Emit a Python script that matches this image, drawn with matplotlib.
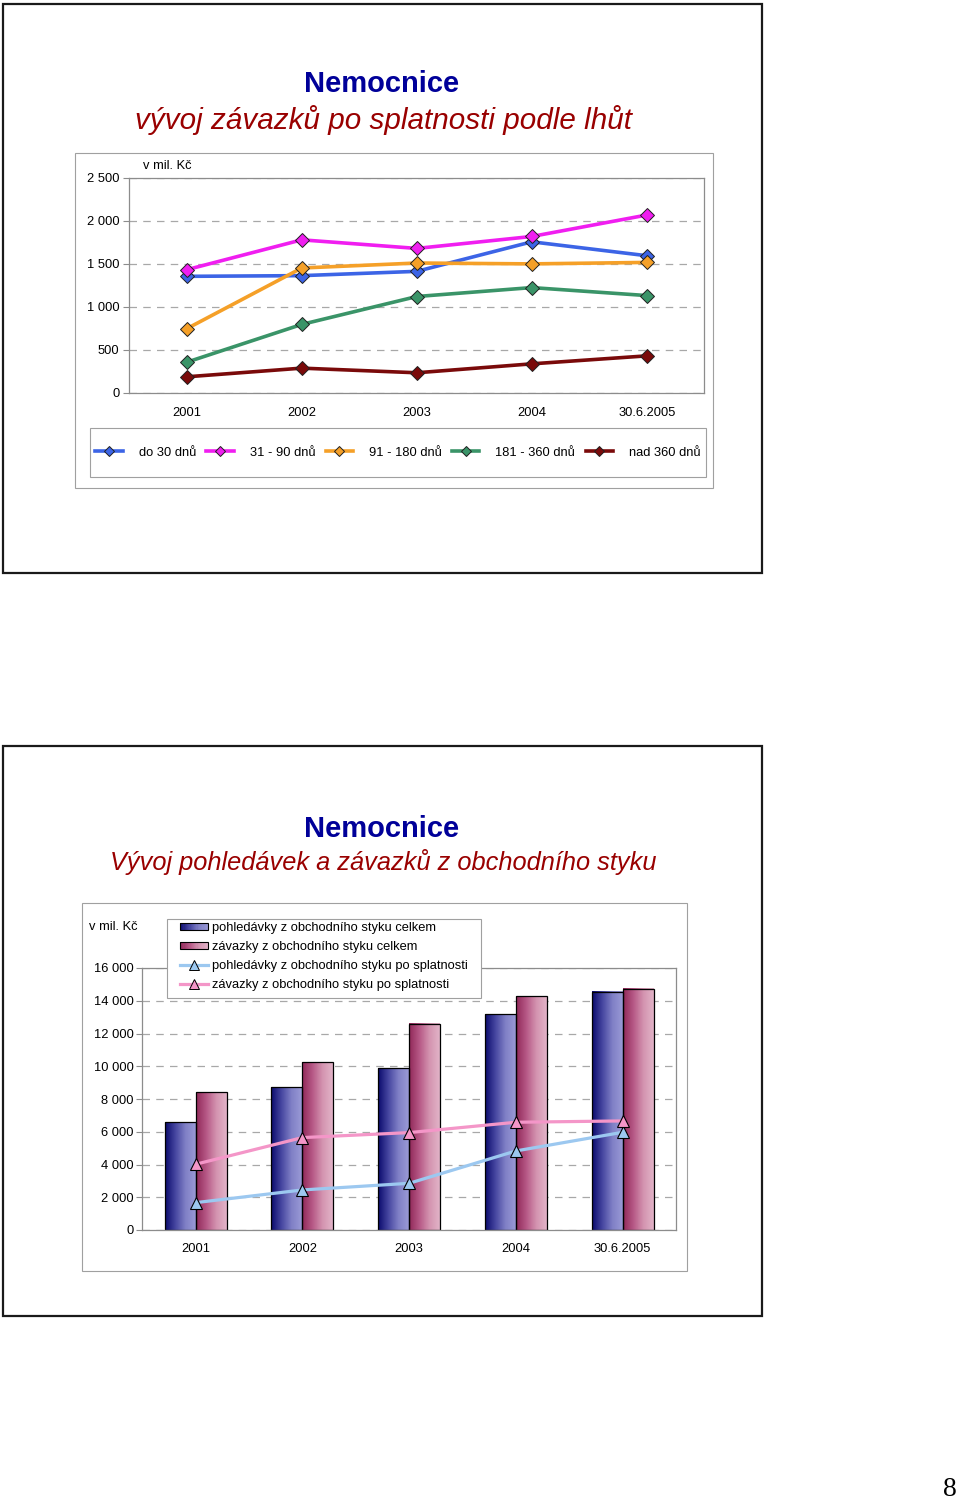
import numpy as np
import matplotlib
matplotlib.use('Agg')
import matplotlib.pyplot as plt
from matplotlib.patches import Rectangle
from matplotlib.colors import LinearSegmentedColormap
from matplotlib.legend_handler import HandlerBase
from matplotlib.lines import Line2D
from matplotlib.ticker import FuncFormatter

plt.rcParams['font.family'] = ['Liberation Sans', 'DejaVu Sans']

W, H = 960, 1501

years = ['2001', '2002', '2003', '2004', '30.6.2005']

# horni graf - zavazky po splatnosti podle lhut (v mil. Kc)
lhuty = ['do 30 dnů', '31 - 90 dnů', '91 - 180 dnů', '181 - 360 dnů', 'nad 360 dnů']
do30 = [1355, 1363, 1413, 1757, 1595]
d31_90 = [1432, 1780, 1680, 1819, 2069]
d91_180 = [745, 1452, 1510, 1500, 1517]
d181_360 = [355, 795, 1120, 1224, 1131]
nad360 = [185, 286, 232, 336, 429]
barvy = ['#3c64e6', '#f01ef0', '#f5a028', '#3a9468', '#7a0a0a']

# dolni graf - pohledavky a zavazky z obchodniho styku
nazvy = ['pohledávky z obchodního styku celkem',
         'závazky z obchodního styku celkem',
         'pohledávky z obchodního styku po splatnosti',
         'závazky z obchodního styku po splatnosti']
pohl_celkem = [6580, 8717, 9878, 13170, 14545]
zav_celkem = [8413, 10246, 12589, 14263, 14727]
pohl_po_spl = [1670, 2445, 2852, 4828, 5968]
zav_po_spl = [4013, 5643, 5948, 6580, 6661]

fig = plt.figure(figsize=(W / 100, H / 100), dpi=100)


def fx(px):
    return px / W


def fy(py):
    return 1 - py / H


def rect_px(x0, y0, x1, y1, **kw):
    r = Rectangle((fx(x0), fy(y1)), (x1 - x0) / W, (y1 - y0) / H,
                  transform=fig.transFigure, **kw)
    fig.add_artist(r)
    return r


def axes_px(x0, y0, x1, y1):
    return fig.add_axes([fx(x0), fy(y1), (x1 - x0) / W, (y1 - y0) / H])


fmt = FuncFormatter(lambda v, p: f'{int(v):,}'.replace(',', ' '))


def style_axes(ax, ymax, step, pad_y, pad_x):
    ax.set_xlim(-0.5, 4.5)
    ax.set_ylim(0, ymax)
    ax.set_yticks(np.arange(0, ymax + 1, step))
    ax.yaxis.set_major_formatter(fmt)
    ax.set_xticks(range(len(years)), years)
    for s in ax.spines.values():
        s.set_color('#8c8c8c')
        s.set_linewidth(0.9)
    ax.yaxis.grid(True, linestyle=(0, (6, 5)), color='#a8a8a8', linewidth=0.9)
    ax.set_axisbelow(True)
    ax.tick_params(axis='y', direction='out', length=4, color='#8c8c8c',
                   labelsize=9.3, pad=pad_y)
    ax.tick_params(axis='x', length=0, labelsize=9.3, pad=pad_x)


# ---- ramecky slidu
rect_px(2.5, 4, 762, 573, fill=False, edgecolor='#1a1a1a', lw=1.6)
rect_px(2.5, 746, 762, 1316, fill=False, edgecolor='#1a1a1a', lw=1.6)
rect_px(75, 153, 713, 488, fill=False, edgecolor='#a0a0a0', lw=0.8)
rect_px(82, 903, 687, 1271, fill=False, edgecolor='#a0a0a0', lw=0.8)

# ---- nadpisy
fig.text(fx(382), fy(84), 'Nemocnice', ha='center', va='center',
         fontsize=21, fontweight='bold', color='#000099')
fig.text(fx(383.5), fy(120), 'vývoj závazků po splatnosti podle lhůt',
         ha='center', va='center', fontsize=21.3, style='italic', color='#990000')
fig.text(fx(382), fy(829), 'Nemocnice', ha='center', va='center',
         fontsize=21, fontweight='bold', color='#000099')
fig.text(fx(383), fy(862), 'Vývoj pohledávek a závazků z obchodního styku',
         ha='center', va='center', fontsize=18.3, style='italic', color='#990000')

# ---- horni graf
ax1 = axes_px(129.2, 178, 704.3, 392.7)
style_axes(ax1, 2500, 500, 3, 10)
x = np.arange(len(years))
rady = [do30, d31_90, d91_180, d181_360, nad360]
for vals, c, name in zip(rady, barvy, lhuty):
    ax1.plot(x, vals, color=c, lw=2.6, marker='D', ms=7, mec='#202020',
             mew=0.7, label=name, zorder=3, clip_on=False)
fig.text(fx(143), fy(166), 'v mil. Kč', ha='left', va='center', fontsize=9.3)

rect_px(90, 428, 706, 477, fill=False, edgecolor='#a0a0a0', lw=0.8)
h1, l1 = ax1.get_legend_handles_labels()
fig.legend(h1, l1, ncol=5, loc='center', bbox_to_anchor=(fx(398), fy(453)),
           frameon=False, fontsize=9.3, handlelength=2.1, handletextpad=1.25,
           columnspacing=0.8, markerscale=0.75)

# ---- dolni graf
ax2 = axes_px(142.2, 968, 676.1, 1230)
style_axes(ax2, 16000, 2000, 2, 9)

cm_blue = LinearSegmentedColormap.from_list(
    'mod', ['#0a0a6c', '#4646a0', '#8080c6', '#9a9ad6'])
cm_pink = LinearSegmentedColormap.from_list(
    'ruz', ['#902858', '#b65886', '#d494b0', '#e2b4c8'])
grad = np.linspace(0, 1, 128).reshape(1, -1)
bw = 0.29
for i in range(len(years)):
    for vals, cm, x0 in ((pohl_celkem, cm_blue, i - bw), (zav_celkem, cm_pink, i)):
        ax2.imshow(grad, cmap=cm, extent=(x0, x0 + bw, 0, vals[i]),
                   aspect='auto', interpolation='bilinear', zorder=2)
ax2.bar(x - bw, pohl_celkem, width=bw, align='edge', fill=False,
        edgecolor='black', lw=0.9, zorder=2.5)
ax2.bar(x, zav_celkem, width=bw, align='edge', fill=False,
        edgecolor='black', lw=0.9, zorder=2.5)
ax2.plot(x, pohl_po_spl, color='#9cc8f0', lw=2.3, marker='^', ms=8.5,
         mec='black', mew=0.8, zorder=4)
ax2.plot(x, zav_po_spl, color='#f496c8', lw=2.3, marker='^', ms=8.5,
         mec='black', mew=0.8, zorder=4)
ax2.set_xlim(-0.5, 4.5)
ax2.set_ylim(0, 16000)
fig.text(fx(89), fy(927), 'v mil. Kč', ha='left', va='center', fontsize=9.3)


class GradientHandler(HandlerBase):
    def __init__(self, cmap):
        super().__init__()
        self.cmap = cmap

    def create_artists(self, legend, orig_handle, xdescent, ydescent,
                       width, height, fontsize, trans):
        n = 24
        hh = height * 0.8
        y0 = -ydescent + (height - hh) / 2
        arts = []
        for k in range(n):
            arts.append(Rectangle((-xdescent + width * k / n, y0), width / n, hh,
                                  facecolor=self.cmap((k + 0.5) / n),
                                  edgecolor='none', transform=trans))
        arts.append(Rectangle((-xdescent, y0), width, hh, fill=False,
                              edgecolor='black', lw=0.8, transform=trans))
        return arts


rect_px(167, 919, 481, 998, facecolor='white', edgecolor='#a0a0a0', lw=0.8)
pb = Rectangle((0, 0), 1, 1)
pz = Rectangle((0, 0), 1, 1)
lb = Line2D([], [], color='#9cc8f0', lw=2.3, marker='^', ms=7, mfc='#9cc8f0',
            mec='black', mew=0.7)
lz = Line2D([], [], color='#f496c8', lw=2.3, marker='^', ms=7, mfc='#f496c8',
            mec='black', mew=0.7)
fig.legend([pb, pz, lb, lz], nazvy, loc='upper left',
           bbox_to_anchor=(fx(176), fy(918)), frameon=False, fontsize=9.3,
           handlelength=2.2, handletextpad=0.3, labelspacing=0.55,
           borderpad=0.3, borderaxespad=0,
           handler_map={pb: GradientHandler(cm_blue), pz: GradientHandler(cm_pink)})

# ---- cislo stranky
fig.text(fx(950), fy(1489), '8', fontsize=20, family='Liberation Serif',
         ha='center', va='center')

fig.savefig('out.png', dpi=100)
